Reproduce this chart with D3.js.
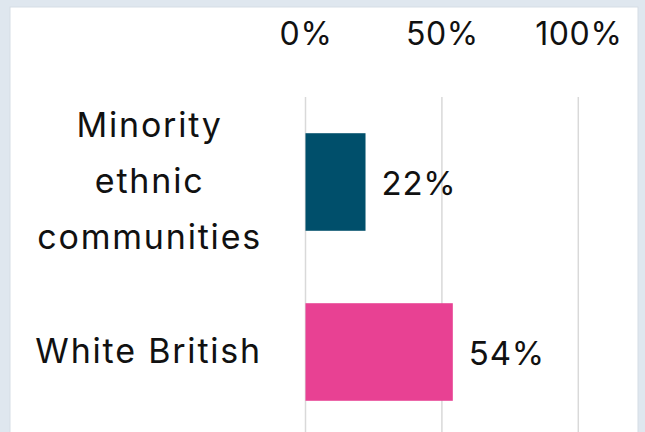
<!DOCTYPE html>
<html><head><meta charset="utf-8">
<script src="https://cdn.jsdelivr.net/npm/d3@7"></script>
<style>
html,body{margin:0;padding:0;background:#dfe7ef;overflow:hidden;}
svg{display:block;}
</style></head>
<body>
<svg id="chart" width="645" height="432"></svg>
<script>
const categories = [["Minority","ethnic","communities"],["White British"]];
const values = [22, 54];
const barColors = ["#004f6b", "#e84193"];
const tickValues = [0, 50, 100];

const FONT = "Inter, 'Open Sans', sans-serif";
const svg = d3.select("#chart");

// panel
svg.append("rect").attr("x",10).attr("y",7).attr("width",628).attr("height",440)
  .attr("fill","#fff").attr("stroke","#d5dde5").attr("stroke-width",1);

const x = d3.scaleLinear().domain([0,100]).range([305.5, 578.3]);
const y = d3.scaleBand().domain(d3.range(categories.length)).range([97, 437])
  .paddingInner(0.426).paddingOuter(0.213);

// gridlines
svg.append("g").selectAll("line").data(tickValues).join("line")
  .attr("x1", d=>x(d)).attr("x2", d=>x(d)).attr("y1",97).attr("y2",432)
  .attr("stroke","#d9d9d9").attr("stroke-width",1.5);

// top axis labels
const axis = d3.axisTop(x).tickValues(tickValues).tickFormat(d=>d+"%").tickSize(0).tickPadding(0);
const ag = svg.append("g").attr("transform","translate(0,45)").call(axis);
ag.select(".domain").remove();
ag.selectAll("text").attr("font-family",FONT).attr("font-size",32).attr("fill","#111")
  .attr("letter-spacing",0.6).attr("dy",0);

// bars
svg.append("g").selectAll("rect").data(values).join("rect")
  .attr("x", x(0)).attr("y",(d,i)=>y(i)).attr("width", d=>x(d)-x(0)).attr("height", y.bandwidth())
  .attr("fill",(d,i)=>barColors[i]);

// value labels
svg.append("g").selectAll("text").data(values).join("text")
  .attr("x", d=>x(d)+16).attr("y",(d,i)=>y(i)+y.bandwidth()/2+1)
  .attr("dominant-baseline","central")
  .attr("font-family",FONT).attr("font-size",33).attr("letter-spacing",0.8).attr("fill","#111")
  .text(d=>d+"%");

// category labels
const lineH = 56;
const rightEdge = 262;
categories.forEach((lines,i)=>{
  const cy = y(i)+y.bandwidth()/2 - 2;
  const g = svg.append("g");
  const texts = g.selectAll("text").data(lines).join("text")
    .attr("y",(d,j)=>cy + (j-(lines.length-1)/2)*lineH)
    .attr("dominant-baseline","central")
    .attr("text-anchor","middle")
    .attr("font-family",FONT).attr("font-size",34).attr("letter-spacing",1.8).attr("fill","#111")
    .text(d=>d);
  let maxW = 0;
  texts.each(function(){ maxW = Math.max(maxW, this.getComputedTextLength()); });
  texts.attr("x", rightEdge - maxW/2);
});
</script>
</body></html>
